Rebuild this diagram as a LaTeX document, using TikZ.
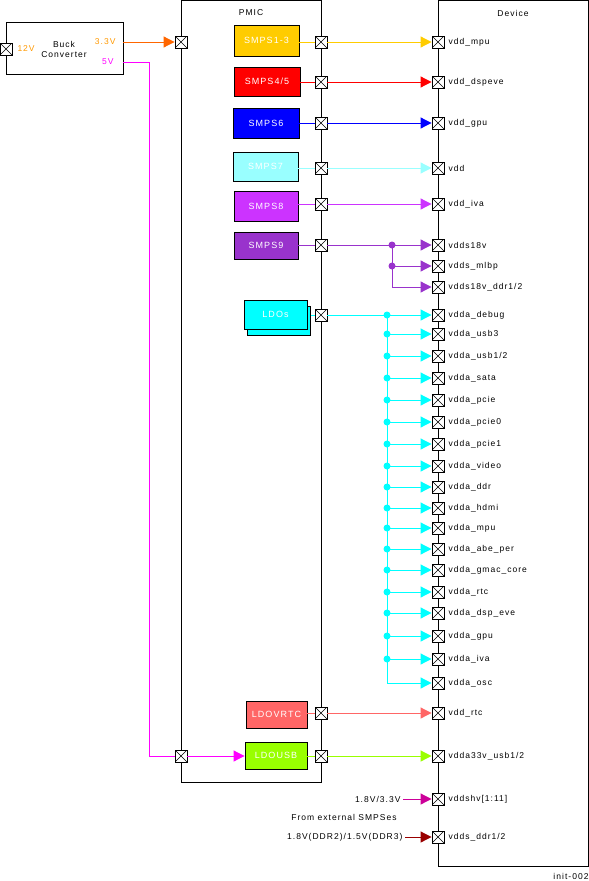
\documentclass[tikz,border=0pt]{standalone}
\usepackage{fontspec}
\setmainfont{Liberation Sans}[LetterSpace=12]
\usetikzlibrary{arrows.meta}
\definecolor{cSa}{HTML}{FFCC00}
\definecolor{cSb}{HTML}{FF0000}
\definecolor{cSc}{HTML}{0000FF}
\definecolor{cSd}{HTML}{99FFFF}
\definecolor{cSe}{HTML}{CC33FF}
\definecolor{cSf}{HTML}{9933CC}
\definecolor{cLdo}{HTML}{00FFFF}
\definecolor{cRtc}{HTML}{FF6666}
\definecolor{cUsb}{HTML}{99FF00}
\definecolor{cShv}{HTML}{CC0099}
\definecolor{cDdr}{HTML}{990000}
\definecolor{cOr}{HTML}{FF6600}
\definecolor{cOrT}{HTML}{FF9900}
\definecolor{cMag}{HTML}{FF00FF}
\begin{document}
\begin{tikzpicture}[x=1pt,y=-1pt, line width=1pt,
 xpin/.style={draw=black, fill=white, minimum size=12pt, inner sep=0pt, line width=0.9pt,
   path picture={\draw[black,line width=0.5pt] (path picture bounding box.north west) -- (path picture bounding box.south east) (path picture bounding box.north east) -- (path picture bounding box.south west);}},
 blk/.style={draw=black, line width=0.9pt, inner sep=0pt, text=white, font=\fontsize{9}{10}\selectfont},
 lbl/.style={inner sep=0pt, font=\fontsize{8.5}{10}\selectfont},
 arr/.style={-{Triangle[length=11pt,width=11pt]}},
 jdot/.style={circle, inner sep=0pt, minimum size=7pt, fill=#1},
]
\useasboundingbox (0,0) rectangle (589,881);
% main boxes
\node[draw=black, line width=0.9pt, minimum width=140pt, minimum height=782pt, inner sep=0pt] (pmic) at (251,391.5) {};
\node[draw=black, line width=0.9pt, minimum width=150pt, minimum height=866pt, inner sep=0pt] (dev) at (513,433) {};
\node[lbl] (tpmic) at (251,13) {PMIC};
\node[lbl] (tdev) at (513,13) {Device};
% buck converter
\node[draw=black, line width=0.9pt, fill=white, minimum width=117pt, minimum height=52pt, inner sep=0pt] (buck) at (64.5,48) {};
\node[lbl] (tbuck) at (64,44) {Buck};
\node[lbl] (tconv) at (64,55) {Converter};
\node[lbl, text=cOrT, anchor=west] (t12) at (17,49) {12V};
\node[lbl, text=cOrT, anchor=east] (t33) at (116,42) {3.3V};
\node[lbl, text=cMag, anchor=east] (t5v) at (114,62) {5V};
\node[xpin] (pb) at (6,49) {};
% PMIC left pins
\node[xpin] (pl1) at (181,42) {};
\node[xpin] (pl2) at (181,756) {};
% PMIC blocks
\node[blk, fill=cSa, minimum width=65pt, minimum height=31pt] (s1) at (266.5,40.5) {SMPS1-3};
\node[blk, fill=cSb, minimum width=66pt, minimum height=29pt] (s2) at (267,81.5) {SMPS4/5};
\node[blk, fill=cSc, minimum width=66pt, minimum height=30pt] (s3) at (266,123) {SMPS6};
\node[blk, fill=cSd, minimum width=65pt, minimum height=29pt] (s4) at (265.5,166.5) {SMPS7};
\node[blk, fill=cSe, minimum width=64pt, minimum height=30pt] (s5) at (266,206) {SMPS8};
\node[blk, fill=cSf, minimum width=64pt, minimum height=27pt] (s6) at (266,245.5) {SMPS9};
\node[blk, fill=cLdo, minimum width=63pt, minimum height=29pt] (ldob) at (279,321) {};
\node[blk, fill=cLdo, minimum width=63pt, minimum height=29pt] (ldo) at (275.5,314.5) {LDOs};
\node[blk, fill=cRtc, minimum width=61pt, minimum height=27pt] (lrtc) at (276.5,714.5) {LDOVRTC};
\node[blk, fill=cUsb, minimum width=62pt, minimum height=27pt] (lusb) at (276,755.5) {LDOUSB};
% PMIC right pins
\foreach \n/\y in {1/42,2/82,3/123,4/168,5/204,6/245,7/315,8/713,9/756}
  \node[xpin] (p\n) at (321,\y) {};
% device pins
\foreach \n/\y/\t in {1/42/{vdd\_mpu}, 2/82/{vdd\_dspeve}, 3/123/{vdd\_gpu}, 4/168/{vdd}, 5/204/{vdd\_iva},
  6/245/{vdds18v}, 7/266/{vdds\_mlbp}, 8/287/{vdds18v\_ddr1/2}, 9/315/{vdda\_debug}, 10/334/{vdda\_usb3},
  11/356/{vdda\_usb1/2}, 12/378/{vdda\_sata}, 13/400/{vdda\_pcie}, 14/422/{vdda\_pcie0}, 15/444/{vdda\_pcie1},
  16/466/{vdda\_video}, 17/487/{vdda\_ddr}, 18/508/{vdda\_hdmi}, 19/528/{vdda\_mpu}, 20/549/{vdda\_abe\_per},
  21/570/{vdda\_gmac\_core}, 22/592/{vdda\_rtc}, 23/613/{vdda\_dsp\_eve}, 24/636/{vdda\_gpu}, 25/659/{vdda\_iva},
  26/683/{vdda\_osc}, 27/713/{vdd\_rtc}, 28/756/{vdda33v\_usb1/2}, 29/799/{vddshv[1:11]}, 30/837/{vdds\_ddr1/2}}
{
  \node[xpin] (d\n) at (438,\y) {};
  \node[lbl, anchor=west] (t\n) at (448,\y) {\t};
}
% buck connections
\draw[arr, cOr] (buck.east |- pl1) -- (pl1.west);
\draw[cMag] (buck.east |- t5v.east) -| (149,756) -- (pl2.west);
\draw[arr, cMag] (pl2.east) -- (lusb.west |- pl2);
% block to pin
\draw[cSa] (s1.east |- p1) -- (p1.west);
\draw[cSb] (s2.east |- p2) -- (p2.west);
\draw[cSc] (s3.east |- p3) -- (p3.west);
\draw[cSd] (s4.east |- p4) -- (p4.west);
\draw[cSe] (s5.east |- p5) -- (p5.west);
\draw[cSf] (s6.east |- p6) -- (p6.west);
\draw[cLdo] (ldob.east |- p7) -- (p7.west);
\draw[cRtc] (lrtc.east |- p8) -- (p8.west);
\draw[cUsb] (lusb.east |- p9) -- (p9.west);
% pin to device
\draw[arr, cSa] (p1.east) -- (d1.west);
\draw[arr, cSb] (p2.east) -- (d2.west);
\draw[arr, cSc] (p3.east) -- (d3.west);
\draw[arr, cSd] (p4.east) -- (d4.west);
\draw[arr, cSe] (p5.east) -- (d5.west);
\draw[arr, cSf] (p6.east) -- (d6.west);
\coordinate (ja) at (392,245);
\coordinate (jb) at (392,266);
\draw[arr, cSf] (ja) |- (d8.west);
\draw[arr, cSf] (jb) -- (d7.west);
\node[jdot=cSf] (da) at (ja) {};
\node[jdot=cSf] (db) at (jb) {};
% LDOs fan-out
\draw[arr, cLdo] (p7.east) -- (d9.west);
\coordinate (lj) at (387,315);
\draw[arr, cLdo] (lj) |- (d26.west);
\node[jdot=cLdo] (ldot9) at (lj) {};
\foreach \n in {10,...,25} {
  \draw[arr, cLdo] (lj |- d\n) -- (d\n.west);
  \node[jdot=cLdo] (ldot\n) at (lj |- d\n) {};
}
\draw[arr, cRtc] (p8.east) -- (d27.west);
\draw[arr, cUsb] (p9.east) -- (d28.west);
% external
\node[lbl, anchor=east, inner sep=2pt] (e1) at (403,799) {1.8V/3.3V};
\node[lbl, anchor=east, inner sep=2pt] (e2) at (405,837) {1.8V(DDR2)/1.5V(DDR3)};
\node[lbl] (efrom) at (344,817) {From external SMPSes};
\draw[arr, cShv] (e1.east) -- (d29.west);
\draw[arr, cDdr] (e2.east) -- (d30.west);
\node[lbl] (tinit) at (571,876) {init-002};
\end{tikzpicture}
\end{document}
